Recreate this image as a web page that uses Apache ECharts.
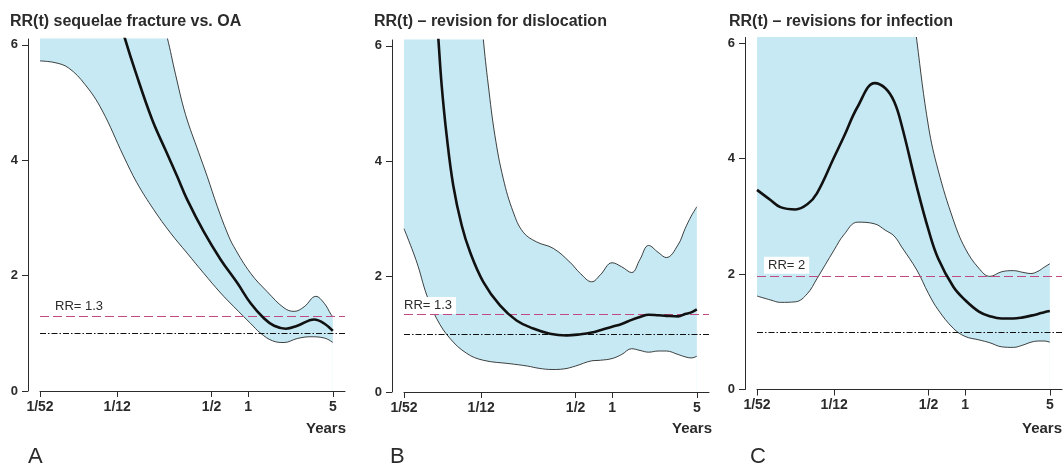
<!DOCTYPE html>
<html>
<head>
<meta charset="utf-8">
<script src="https://cdn.jsdelivr.net/npm/echarts@6/dist/echarts.min.js"></script>
<style>
  html, body { margin: 0; padding: 0; background: #fff; }
  #chart { width: 1063px; height: 466px; }
</style>
</head>
<body>
<div id="chart"></div>
<script>
// time in years (log axis) and tick labels
const tickVals = [1 / 52, 1 / 12, 1 / 2, 1, 5]
const tickNames = ['1/52', '1/12', '1/2', '1', '5']
const yTicks = [0, 2, 4, 6]

const titles = ['RR(t) sequelae fracture vs. OA', 'RR(t) \u2013 revision for dislocation', 'RR(t) \u2013 revisions for infection']
const letters = ['A', 'B', 'C']
const rrValues = [1.3, 1.35, 1.97]
const rrLabels = ['RR= 1.3', 'RR= 1.3', 'RR= 2']

// A: sequelae fracture vs OA (values above 6 run off the top of the plot)
const tLowA = [1 / 52, 0.0256, 0.033, 0.0453, 0.0623, 0.094, 0.121, 0.167, 0.229, 0.314, 0.431, 0.593, 0.764, 1.05, 1.27, 1.59, 1.98, 2.55, 3.29, 3.98, 4.5, 5]
const lowA = [5.72, 5.69, 5.6, 5.31, 4.87, 4.07, 3.61, 3.14, 2.74, 2.39, 2.04, 1.7, 1.46, 1.17, 1.0, 0.87, 0.84, 0.91, 0.94, 0.93, 0.9, 0.84]
const tEstA = [1 / 52, 0.0499, 0.0729, 0.0958, 0.118, 0.162, 0.208, 0.26, 0.314, 0.431, 0.593, 0.816, 1.05, 1.35, 1.64, 2.05, 2.55, 3.51, 4.25, 5]
const estA = [10.5, 8.2, 7.0, 6.13, 5.53, 4.7, 4.18, 3.72, 3.32, 2.76, 2.28, 1.87, 1.52, 1.26, 1.13, 1.08, 1.13, 1.24, 1.17, 1.04]
const tUpA = [1 / 52, 0.0886, 0.156, 0.215, 0.252, 0.305, 0.392, 0.46, 0.557, 0.674, 0.764, 1.05, 1.44, 1.98, 2.4, 2.9, 3.62, 4.25, 4.82, 5]
const upA = [12, 9, 7.2, 6.13, 5.49, 4.79, 4.13, 3.72, 3.2, 2.74, 2.5, 2.04, 1.72, 1.44, 1.38, 1.46, 1.64, 1.52, 1.33, 1.29]

// B: revision for dislocation
const tLowB = [1 / 52, 0.0245, 0.0296, 0.0358, 0.046, 0.0632, 0.0866, 0.144, 0.2, 0.25, 0.32, 0.4, 0.5, 0.68, 0.8, 1, 1.2, 1.45, 1.7, 2, 2.4, 2.8, 3.5, 4, 4.5, 5]
const lowB = [2.83, 2.25, 1.68, 1.27, 0.93, 0.67, 0.55, 0.49, 0.45, 0.41, 0.39, 0.4, 0.45, 0.54, 0.55, 0.58, 0.65, 0.75, 0.72, 0.69, 0.71, 0.71, 0.65, 0.61, 0.59, 0.62]
const tEstB = [1 / 52, 0.0262, 0.0315, 0.0369, 0.0393, 0.0432, 0.049, 0.0575, 0.0673, 0.0866, 0.119, 0.163, 0.224, 0.307, 0.421, 0.55, 0.68, 0.8, 1, 1.2, 1.45, 1.7, 2, 2.4, 2.8, 3.5, 4, 4.5, 5]
const estB = [14, 10.5, 8.1, 6.13, 5.32, 4.45, 3.58, 2.89, 2.43, 1.91, 1.5, 1.24, 1.1, 1.01, 0.98, 1.0, 1.03, 1.07, 1.13, 1.18, 1.25, 1.3, 1.34, 1.33, 1.32, 1.31, 1.35, 1.38, 1.43]
const tUpB = [1 / 52, 0.046, 0.0673, 0.0804, 0.0866, 0.0953, 0.108, 0.1266, 0.153, 0.185, 0.239, 0.327, 0.449, 0.55, 0.68, 0.8, 1, 1.2, 1.45, 1.7, 2, 2.4, 2.8, 3.5, 4, 4.5, 5]
const upB = [13, 10.5, 8.3, 7.0, 6.13, 5.32, 4.45, 3.7, 3.12, 2.77, 2.6, 2.49, 2.25, 2.05, 1.91, 2.03, 2.24, 2.17, 2.07, 2.3, 2.54, 2.42, 2.33, 2.55, 2.83, 3.05, 3.21]

// C: revisions for infection
const tC = [1 / 52, 0.025, 0.03, 0.04, 0.05, 0.06, 1 / 12, 0.1, 0.13, 0.18, 0.22, 0.26, 0.3, 0.4, 0.5, 0.6, 0.8, 1, 1.3, 1.6, 2, 2.5, 3, 3.5, 4, 4.5, 5]
const lowC = [1.62, 1.55, 1.51, 1.52, 1.66, 1.92, 2.42, 2.68, 2.9, 2.87, 2.76, 2.66, 2.47, 2.07, 1.66, 1.38, 1.06, 0.92, 0.86, 0.81, 0.74, 0.73, 0.77, 0.82, 0.84, 0.84, 0.82]
const estC = [3.46, 3.28, 3.16, 3.12, 3.21, 3.4, 4.03, 4.38, 4.9, 5.31, 5.22, 4.99, 4.58, 3.51, 2.76, 2.27, 1.78, 1.55, 1.35, 1.27, 1.23, 1.23, 1.25, 1.28, 1.31, 1.34, 1.36]
const upC = [14, 14, 14, 14, 14, 13.5, 13, 12.5, 12, 11, 10, 9, 8.3, 6.05, 4.55, 3.8, 2.94, 2.45, 2.1, 1.96, 2.04, 2.06, 2.03, 2.01, 2.05, 2.12, 2.18]

const panelData = [
  { tLow: tLowA, low: lowA, tEst: tEstA, est: estA, tUp: tUpA, up: upA },
  { tLow: tLowB, low: lowB, tEst: tEstB, est: estB, tUp: tUpB, up: upB },
  { tLow: tC, low: lowC, tEst: tC, est: estC, tUp: tC, up: upC },
]

// layout (pixels)
const gridLeft = [40, 404, 757]
const gridTop = [39, 40, 37.5]
const yearsRight = [346, 712, 1062]
const titleLeft = [10, 374, 729]
const letterLeft = [28, 390, 750]
const rrLabelDx = [11, -4, 7]
const rrLabelDy = [1, 0, 2]

const font = '"Liberation Sans", Arial, sans-serif'
const ink = '#2b2b2b'
const bandColor = '#c6e9f3'
const rrColor = '#c24a82'

const pairs = (t, v) => t.map((x, i) => [x, v[i]])
// first tick sits exactly on the axis minimum; nudge it inside so it is kept
const tickPos = tickVals.map((v, k) => (k === 0 ? v * 1.0001 : v))

const grid = []
const xAxis = []
const yAxis = []
const series = []
const title = []
const graphic = []

panelData.forEach((p, i) => {
  grid.push({ left: gridLeft[i], top: gridTop[i], width: 305, height: 352 })
  xAxis.push({
    type: 'log',
    gridIndex: i,
    min: 1 / 52,
    max: 6.3,
    z: 10,
    axisLine: { lineStyle: { color: ink, width: 1 } },
    axisTick: { length: 6, lineStyle: { color: ink }, customValues: tickPos },
    axisLabel: {
      customValues: tickPos,
      margin: 9,
      color: ink,
      fontFamily: font,
      fontWeight: 'bold',
      fontSize: 14,
      formatter: (v) => {
        const k = tickVals.findIndex((x) => Math.abs(Math.log(x) - Math.log(v)) < 1e-3)
        return k >= 0 ? tickNames[k] : ''
      },
    },
    splitLine: { show: false },
    minorTick: { show: false },
  })
  yAxis.push({
    type: 'value',
    gridIndex: i,
    min: 0,
    max: 6.1,
    interval: 2,
    offset: 12,
    axisLine: { show: true, lineStyle: { color: ink, width: 1 } },
    axisTick: { show: true, length: 6, lineStyle: { color: ink }, customValues: yTicks },
    axisLabel: { customValues: yTicks, margin: 10, color: ink, fontFamily: font, fontWeight: 'bold', fontSize: 13 },
    splitLine: { show: false },
  })

  const base = { type: 'line', xAxisIndex: i, yAxisIndex: i, smooth: 0.4, symbol: 'none', silent: true }
  // confidence band: blue under the upper bound, white mask under the lower bound
  series.push({ ...base, z: 2, data: pairs(p.tUp, p.up), lineStyle: { color: '#111', width: 0.8 }, areaStyle: { color: bandColor, opacity: 1 } })
  series.push({ ...base, z: 3, data: pairs(p.tLow, p.low), lineStyle: { color: '#111', width: 0.8 }, areaStyle: { color: '#fff', opacity: 1 } })
  series.push({
    ...base,
    z: 5,
    data: pairs(p.tEst, p.est),
    lineStyle: { color: '#111', width: 2.6 },
    markLine: {
      silent: true,
      symbol: 'none',
      animation: false,
      data: [
        {
          yAxis: 1,
          lineStyle: { color: '#111', width: 1, type: [6, 2, 1.5, 2] },
          label: { show: false },
        },
        {
          yAxis: rrValues[i],
          lineStyle: { color: rrColor, width: 1.2, type: [9, 4] },
          label: {
            show: true,
            position: 'insideStartTop',
            formatter: rrLabels[i],
            distance: [rrLabelDx[i], rrLabelDy[i]],
            color: ink,
            fontFamily: font,
            fontSize: 13,
            backgroundColor: '#fff',
            padding: [2, 4, 2, 4],
          },
        },
      ],
    },
  })

  title.push({
    text: titles[i],
    left: titleLeft[i],
    top: 14,
    padding: 0,
    textStyle: { fontFamily: font, fontWeight: 'bold', fontSize: 16, color: ink },
  })
  title.push({
    text: letters[i],
    left: letterLeft[i],
    top: 446,
    padding: 0,
    textStyle: { fontFamily: font, fontWeight: 'normal', fontSize: 22, color: ink },
  })
  graphic.push({
    type: 'text',
    right: 1063 - yearsRight[i],
    top: 421,
    style: { text: 'Years', font: 'bold 15px ' + font, fill: ink },
  })
})

const chart = echarts.init(document.getElementById('chart'), null, { renderer: 'canvas' })
chart.setOption({
  animation: false,
  backgroundColor: '#fff',
  title,
  grid,
  xAxis,
  yAxis,
  series,
  graphic,
})
</script>
</body>
</html>
